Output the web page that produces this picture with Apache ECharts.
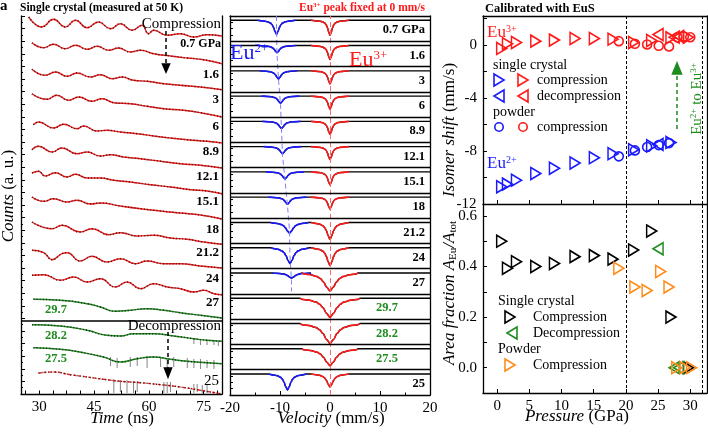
<!DOCTYPE html>
<html>
<head>
<meta charset="utf-8">
<script src="https://cdn.jsdelivr.net/npm/echarts@6/dist/echarts.min.js"></script>
<style>
  html, body { margin: 0; padding: 0; background: #fff; }
  #chart { width: 708px; height: 433px; }
</style>
</head>
<body>
<div id="chart"></div>
<script>
// ---- panel 1: time spectra, time (ns) vs counts (a.u., curves offset) ----
const timeLabels = [30, 45, 60, 75];
const timeTicks = [26.25, 30, 33.75, 37.5, 41.25, 45, 48.75, 52.5, 56.25, 60, 63.75, 67.5, 71.25, 75, 78.75];
const spectraT = [
  [27.1, 30.7, 33.9, 37.1, 39.9, 43.1, 46.2, 49.5, 52.2, 55.4, 58.1, 59.9, 61.3, 65.0, 68.6, 72.3, 75.9, 80],
  [28.0, 31.2, 33.9, 37.1, 39.9, 43.1, 45.8, 49.0, 51.7, 54.9, 57.7, 61.3, 65.9, 70.5, 75.0, 80],
  [28.0, 31.6, 34.4, 37.6, 40.3, 44.0, 46.7, 49.9, 52.7, 55.8, 59.5, 64.1, 68.6, 74.1, 80],
  [28.0, 32.1, 34.8, 38.0, 40.8, 44.4, 47.2, 50.4, 54.9, 59.5, 64.1, 69.5, 74.1, 80],
  [28.4, 29.8, 33.9, 36.7, 40.3, 42.1, 45.8, 48.5, 52.2, 56.8, 61.3, 65.9, 70.5, 75.9, 80],
  [28.0, 29.8, 33.5, 36.2, 40.3, 43.1, 46.7, 49.5, 53.1, 57.7, 63.2, 68.6, 74.1, 80],
  [28.0, 29.8, 31.6, 34.4, 37.6, 39.9, 43.1, 46.7, 50.4, 54.9, 60.4, 65.9, 71.4, 75.9, 80],
  [28.0, 31.2, 33.9, 37.6, 40.3, 44.0, 46.7, 52.2, 57.7, 63.2, 68.6, 74.1, 80],
  [28.0, 33.5, 36.2, 41.2, 44.4, 49.0, 52.2, 56.8, 61.3, 65.9, 70.5, 75.0, 80],
  [28.0, 31.2, 33.5, 36.2, 37.6, 41.2, 44.4, 48.5, 52.2, 56.3, 59.5, 64.1, 68.6, 74.1, 80],
  [28.0, 31.2, 35.8, 39.4, 43.1, 46.7, 50.8, 54.0, 57.7, 61.3, 65.0, 68.6, 72.3, 75.0, 77.8, 80],
  [28.4, 35.8, 43.1, 46.7, 50.8, 54.9, 59.5, 64.1, 68.6, 74.1, 80],
  [28.0, 35.8, 43.1, 48.5, 52.2, 55.8, 61.3, 66.8, 72.3, 75.9, 80],
  [28.4, 35.8, 42.1, 47.6, 52.2, 56.8, 61.3, 65.9, 70.5, 75.9, 80],
  [29.8, 33.9, 38.5, 43.1, 47.6, 52.2, 57.7, 63.2, 68.6, 74.1, 79.6]
];
const spectraC = [
  [377, 367, 374.7, 367, 373.7, 366.3, 372, 365.3, 370.3, 363.7, 368.7, 360.3, 363.7, 358.7, 360.3, 357, 359.3, 358],
  [351.3, 346.3, 349.7, 345.3, 348.7, 344.7, 347.7, 343.7, 346, 342, 343.7, 340.3, 338, 336, 334.3, 330.3],
  [324.7, 318.7, 322, 317.7, 321, 317, 319.3, 315.3, 317, 313.7, 312.7, 310.3, 308.7, 307, 304.3],
  [300.3, 294.7, 298.7, 293.7, 297, 292.7, 295.3, 291.3, 290.3, 287.7, 285.3, 283.7, 281.3, 277],
  [269.3, 272, 266, 269.7, 265.3, 268, 263, 263.7, 262, 260.3, 258, 256, 254.3, 252.7, 251],
  [244.3, 247.7, 242, 246, 240.3, 242, 238, 239.3, 237, 235.3, 232.7, 230.3, 228.7, 226],
  [221, 222.7, 218, 221.3, 217, 219.7, 216, 216, 213.7, 212, 209.3, 207, 204.3, 203, 200.3],
  [197, 192.7, 195.3, 192, 193.7, 190, 191, 188, 185.3, 183, 181, 179, 175],
  [172, 165.3, 168.7, 162, 165.3, 159.3, 161.3, 158, 158.7, 156, 154.7, 152, 149.7],
  [143.7, 141.3, 134.3, 140.3, 141.3, 133, 137.7, 132, 135.3, 130.3, 133, 130.3, 130.3, 128, 126],
  [118.7, 119.3, 113.7, 117, 112, 115.3, 107, 112, 105.3, 110.3, 107, 105.3, 102, 103.7, 100.3, 99.3],
  [94.7, 93.7, 90.3, 87, 82.7, 83.7, 85.3, 83.7, 81.3, 78.7, 76],
  [69.3, 68, 63.7, 58.7, 58, 60.3, 60.3, 58, 55.3, 53.7, 52.7],
  [46.3, 44.7, 41.3, 37, 32, 35.3, 37, 34.7, 32.7, 31.3, 30.3],
  [21, 22, 19.3, 17, 14.7, 12.7, 11.3, 9.3, 7, 3.7, 0.3]
];
const spectraFit = ['r', 'r', 'r', 'r', 'r', 'r', 'r', 'r', 'r', 'r', 'r', 'g', 'g', 'g', 'r'];
// error bars of the noisy decompression spectra
const errT = [72.3, 74.1, 75.9, 77.8, 79.0,
  49.5, 51.3, 54.9, 56.8, 59.5, 63.2, 65.0, 66.8, 70.5, 72.3, 74.1, 75.9, 77.8,
  50.4, 52.2, 54.0, 55.8, 56.8, 64.1, 65.0, 65.9, 72.3, 73.2, 74.6, 75.9];
const errHi = [55, 55, 54, 54, 53,
  37, 36, 37, 37, 38, 37, 36, 37, 36, 35, 35, 34, 34,
  15, 14, 14, 13, 13, 12, 12, 12, 10, 10, 9, 9];
const errLo = [50, 49, 49, 49, 48,
  28, 26, 27, 28, 26, 27, 26, 27, 26, 26, 25, 26, 25,
  1, 2, 1, 1, 2, 1, 1, 2, 1, 2, 1, 1];

// ---- panel 2: Mossbauer spectra, one band per pressure ----
const bandLabels = ['0.7 GPa', '1.6', '3', '6', '8.9', '12.1', '15.1', '18', '21.2', '24', '27', '29.7', '28.2', '27.5', '25'];
const bandGreen = [0, 0, 0, 0, 0, 0, 0, 0, 0, 0, 0, 1, 1, 1, 0];
const eu2Center = [-10.7, -10.6, -10.3, -9.9, -9.7, -9.5, -9.0, -8.5, -8.1, -8.0, -7.7, null, null, null, -8.5];
const eu2Depth = [0.55, 0.28, 0.32, 0.28, 0.28, 0.28, 0.28, 0.28, 0.43, 0.63, 0.2, 0, 0, 0, 0.63];
const eu2Width = [0.6, 0.6, 0.6, 0.6, 0.6, 0.6, 0.6, 0.6, 0.8, 0.8, 0.8, 0, 0, 0, 0.7];
const eu3Depth = [0.59, 0.55, 0.51, 0.51, 0.51, 0.51, 0.51, 0.47, 0.67, 0.71, 0.71, 0.75, 0.79, 0.67, 0.51];
const eu3Width = [0.5, 0.5, 0.5, 0.5, 0.5, 0.5, 0.5, 0.5, 0.7, 0.7, 1.3, 1.4, 1.4, 1.3, 0.7];
const dipOffsets = [-4, -3, -2, -1.5, -1, -0.5, 0, 0.5, 1, 1.5, 2, 3, 4];
const dipProfile = [0.06, 0.1, 0.2, 0.31, 0.5, 0.8, 1, 0.8, 0.5, 0.31, 0.2, 0.1, 0.06];

// ---- panel 3: isomer shift vs pressure ----
const pScComp = [0.7, 1.6, 3, 6, 8.9, 12.1, 15.1, 18, 21.2, 24, 27];
const isEu2ScComp = [-10.7, -10.5, -10.2, -9.7, -9.3, -8.9, -8.5, -8.2, -7.9, -7.6, -7.35];
const pScDecomp = [25];
const isEu2ScDecomp = [-7.5];
const pPowder = [18.9, 21.4, 23.3, 25.1, 26.7];
const isEu2Powder = [-8.4, -7.95, -7.7, -7.55, -7.4];
const pScComp3 = [0.7, 1.6, 3, 6, 8.9, 12.1, 15.1, 18, 21.2, 24, 27, 29.7];
const isEu3ScComp = [-0.25, 0.1, 0.2, 0.3, 0.38, 0.5, 0.5, 0.45, 0.2, 0.35, 0.55, 0.6];
const pScDecomp3 = [25, 27.5, 28.2];
const isEu3ScDecomp = [0.8, 0.6, 0.65];
const pPowder3 = [18.9, 21.4, 23.3, 25.1, 26.7, 28, 29, 30];
const isEu3Powder = [0.3, 0.1, 0.05, -0.05, -0.1, 0.6, 0.65, 0.6];

// ---- panel 4: Eu2+ area fraction vs pressure ----
const pFracScComp = [0.7, 1.6, 3, 6, 8.9, 12.1, 15.1, 18, 21.2, 24, 27, 29.7];
const fracScComp = [0.50, 0.393, 0.419, 0.40, 0.412, 0.439, 0.443, 0.429, 0.465, 0.54, 0.20, 0];
const pFracScDecomp = [25, 27.5, 28.2];
const fracScDecomp = [0.47, 0, 0];
const pFracPowder = [18.9, 21.4, 23.3, 25.4, 26.7, 27.9, 29.2, 30.2];
const fracPowder = [0.393, 0.319, 0.305, 0.38, 0.319, 0, 0, 0];
const pressureLabels = [0, 5, 10, 15, 20, 25, 30];
const isomerLabels = [-12, -8, -4, 0];
const isomerTicks = [-12, -10, -8, -6, -4, -2, 0, 2];
const boundaryP = [20, 31.9];

const serif = 'Liberation Serif';
const RED = '#ff1a1a', BLUE = '#1a1aff', GREEN = '#1e8c1e', ORANGE = '#ff8c1a';
const triR = 'path://M0,0L10,5L0,10Z';
const triL = 'path://M10,0L0,5L10,10Z';

const chart = echarts.init(document.getElementById('chart'));

const axLine = { show: true, onZero: false, lineStyle: { color: '#000', width: 1.3 } };
const tickIn = (len, values) => {
  const t = { show: true, inside: true, length: len, lineStyle: { color: '#000', width: 1 } };
  if (values) t.customValues = values;
  return t;
};
const lab = { fontFamily: serif, fontSize: 15, color: '#000', margin: 6 };
const noAx = (grid, pos) => ({
  gridIndex: grid, type: 'value', position: pos, min: 0, max: 1,
  axisLine: axLine, axisTick: { show: false }, axisLabel: { show: false }, splitLine: { show: false }
});

const series = [];

// panel 1 curves: fit line + dotted data
spectraT.forEach((ts, i) => {
  const pts = ts.map((t, j) => [t, spectraC[i][j]]);
  const fitColor = spectraFit[i] === 'g' ? GREEN : RED;
  series.push({
    type: 'line', xAxisIndex: 0, yAxisIndex: 0, data: pts, smooth: 0.5, showSymbol: false, silent: true, z: 2,
    lineStyle: { color: fitColor, width: 1.4, type: i === 14 ? [3, 2] : 'solid' }
  });
  series.push({
    type: 'line', xAxisIndex: 0, yAxisIndex: 0, data: pts, smooth: 0.5, showSymbol: false, silent: true, z: 3,
    lineStyle: { color: '#222', width: 1.4, type: [1, 2.2] }
  });
});
series.push({
  type: 'custom', xAxisIndex: 0, yAxisIndex: 0, silent: true, z: 1,
  data: errT.map((t, i) => [t, errHi[i], errLo[i]]),
  renderItem: (params, api) => {
    const a = api.coord([api.value(0), api.value(1)]);
    const b = api.coord([api.value(0), api.value(2)]);
    return { type: 'line', shape: { x1: a[0], y1: a[1], x2: b[0], y2: b[1] }, style: { stroke: '#777', lineWidth: 0.9 } };
  }
});
// divider between compression and decompression
series.push({
  type: 'line', xAxisIndex: 0, yAxisIndex: 0, data: [], silent: true,
  markLine: { symbol: 'none', silent: true, label: { show: false }, lineStyle: { color: '#000', width: 1.5, type: 'solid' }, data: [{ yAxis: 73 }] }
});

// panel 2 spectra
const guideBlue = [[eu2Center[0], 15]];
bandLabels.forEach((lbl, k) => {
  const b = 15 - k - 0.17;
  const blue = [], red = [];
  if (eu2Center[k] !== null) {
    const c = eu2Center[k];
    blue.push([c - 3.8, b]);
    dipOffsets.forEach((u, i) => blue.push([c + u * eu2Width[k], b - eu2Depth[k] * dipProfile[i]]));
    blue.push([c + 3.8, b]);
    if (k <= 10) guideBlue.push([c, 15 - k - 0.5]);
  }
  const edge = Math.max(3.8, 4 * eu3Width[k] + 0.4);
  red.push([-edge, b]);
  dipOffsets.forEach((u, i) => red.push([u * eu3Width[k], b - eu3Depth[k] * dipProfile[i]]));
  red.push([edge, b]);
  const black = [[-20, b]].concat(blue, red, [[20, b]]).sort((p, q) => p[0] - q[0]);
  const common = { type: 'line', xAxisIndex: 1, yAxisIndex: 2, smooth: 0.35, smoothMonotone: 'x', showSymbol: false, silent: true };
  series.push(Object.assign({}, common, { data: black, z: 2, lineStyle: { color: '#000', width: 1.4 } }));
  if (blue.length) series.push(Object.assign({}, common, { data: blue, z: 3, lineStyle: { color: BLUE, width: 1.6 } }));
  series.push(Object.assign({}, common, { data: red, z: 3, lineStyle: { color: RED, width: 1.6 } }));
});
guideBlue.push([eu2Center[10], 4.1]);
series.push({
  type: 'line', xAxisIndex: 1, yAxisIndex: 2, data: guideBlue, showSymbol: false, silent: true, z: 4,
  lineStyle: { color: '#7f7fff', width: 1, type: [5, 3] },
  markLine: {
    symbol: 'none', silent: true, label: { show: false },
    data: [{ xAxis: 0, lineStyle: { color: '#ff6a6a', width: 1, type: [5, 3] } }]
      .concat([1, 2, 3, 4, 5, 6, 7, 8, 9, 10, 11, 12, 13, 14].map(v => ({ yAxis: v, lineStyle: { color: '#000', width: 1.3, type: 'solid' } })))
  }
});

// panel 3 and 4 markers
function sc(xi, yi, xs, ys, sym, color, size) {
  return {
    type: 'scatter', xAxisIndex: xi, yAxisIndex: yi, data: xs.map((x, i) => [x, ys[i]]),
    symbol: sym, symbolSize: size, silent: true, z: 4,
    itemStyle: { color: 'rgba(0,0,0,0)', borderColor: color, borderWidth: 1.6, opacity: 1 }
  };
}
const dashV = {
  symbol: 'none', silent: true, label: { show: false },
  lineStyle: { color: '#000', width: 1, type: [3, 2] },
  data: boundaryP.map(p => ({ xAxis: p }))
};
// lowest isomer-shift label sits on the panel boundary, drawn as a mark at the axis corner
const isoMinMark = {
  silent: true, symbol: 'circle', symbolSize: 1, itemStyle: { color: 'rgba(0,0,0,0)' },
  label: { show: true, position: 'left', distance: 6, color: '#000', fontFamily: serif, fontSize: 15, formatter: String(isomerLabels[0]) },
  data: [{ coord: [-2.2, isomerLabels[0]] }]
};
series.push(Object.assign(sc(3, 4, pScComp, isEu2ScComp, triR, BLUE, [10, 12]), { markLine: dashV, markPoint: isoMinMark }));
series.push(sc(3, 4, pScDecomp, isEu2ScDecomp, triL, BLUE, [10, 12]));
series.push(sc(3, 4, pPowder, isEu2Powder, 'circle', BLUE, 9));
series.push(sc(3, 4, pScComp3, isEu3ScComp, triR, RED, [10, 12]));
series.push(sc(3, 4, pScDecomp3, isEu3ScDecomp, triL, RED, [10, 12]));
series.push(sc(3, 4, pPowder3, isEu3Powder, 'circle', RED, 9));
series.push(Object.assign(sc(5, 6, pFracScComp, fracScComp, triR, '#000', [10, 12]), { markLine: dashV }));
series.push(sc(5, 6, pFracScDecomp, fracScDecomp, triL, GREEN, [10, 12]));
series.push(sc(5, 6, pFracPowder, fracPowder, triR, ORANGE, [10, 12]));

// text and annotation helpers
function gtext(x, y, text, o) {
  o = o || {};
  return {
    type: 'text', x: x, y: y, rotation: o.rot || 0, silent: true, z: 10,
    style: {
      text: text, fill: o.color || '#000', fontFamily: serif, fontSize: o.size || 13,
      fontWeight: o.bold ? 'bold' : 'normal', fontStyle: o.italic ? 'italic' : 'normal',
      align: o.align || 'left', textAlign: o.align || 'left',
      verticalAlign: 'middle', textVerticalAlign: 'middle', rich: o.rich
    }
  };
}
const supRich = (size, color, bold) => ({
  m: { fontFamily: serif, fontSize: size, fill: color, color: color, fontWeight: bold ? 'bold' : 'normal' },
  s: { fontFamily: serif, fontSize: Math.round(size * 0.6), fill: color, color: color, verticalAlign: 'top', fontWeight: bold ? 'bold' : 'normal' }
});
const axisRich = size => ({
  i: { fontFamily: serif, fontSize: size, fontStyle: 'italic', fill: '#000' },
  n: { fontFamily: serif, fontSize: size, fill: '#000' },
  b: { fontFamily: serif, fontSize: Math.round(size * 0.62), fill: '#000', verticalAlign: 'bottom' }
});
function dline(x1, y1, x2, y2, color) {
  return { type: 'line', silent: true, z: 10, shape: { x1: x1, y1: y1, x2: x2, y2: y2 }, style: { stroke: color, lineWidth: 1.5, lineDash: [4, 3] } };
}
function poly(points, color, fill) {
  return { type: 'polygon', silent: true, z: 10, shape: { points: points }, style: { stroke: color, fill: fill ? color : 'none', lineWidth: 1.6 } };
}
function ring(cx, cy, color) {
  return { type: 'circle', silent: true, z: 10, shape: { cx: cx, cy: cy, r: 4.2 }, style: { stroke: color, fill: 'none', lineWidth: 1.6 } };
}
const rTri = (x, y, c) => poly([[x - 5, y - 6], [x + 5, y], [x - 5, y + 6]], c);
const lTri = (x, y, c) => poly([[x + 5, y - 6], [x - 5, y], [x + 5, y + 6]], c);

const graphic = [
  gtext(0, 6, 'a', { size: 15, bold: true }),
  gtext(20, 8, 'Single crystal (measured at 50 K)', { size: 11.5, bold: true }),
  gtext(362, 8, '{m|Eu}{s|3+}{m| peak fixed at 0 mm/s}', { align: 'center', rich: supRich(11.5, RED, true) }),
  gtext(485, 9, 'Calibrated with EuS', { size: 12.5, bold: true }),
  // panel 1 labels
  gtext(221, 24, 'Compression', { size: 15, align: 'right' }),
  gtext(221, 44, '0.7 GPa', { size: 12, bold: true, align: 'right' }),
  dline(166, 31, 166, 65, '#000'),
  poly([[162.5, 64], [169.5, 64], [166, 72]], '#000', true),
  gtext(221, 326, 'Decompression', { size: 15, align: 'right' }),
  dline(168, 332, 168, 369, '#000'),
  poly([[164.5, 368], [171.5, 368], [168, 377]], '#000', true),
  gtext(219, 381, '25', { size: 15, align: 'right' }),
  gtext(45, 310, '29.7', { size: 12.5, bold: true, color: GREEN }),
  gtext(45, 336, '28.2', { size: 12.5, bold: true, color: GREEN }),
  gtext(45, 359, '27.5', { size: 12.5, bold: true, color: GREEN }),
  // panel 2 big labels
  gtext(230, 53, '{m|Eu}{s|2+}', { rich: supRich(22, BLUE) }),
  gtext(349, 60, '{m|Eu}{s|3+}', { rich: supRich(22, RED) }),
  // panel 3 legend
  gtext(487, 33, '{m|Eu}{s|3+}', { rich: supRich(17, RED) }),
  gtext(487, 164, '{m|Eu}{s|2+}', { rich: supRich(17, BLUE) }),
  gtext(493, 65, 'single crystal', { size: 14 }),
  rTri(499, 80, BLUE), rTri(523, 80, RED),
  gtext(537, 80, 'compression', { size: 14 }),
  lTri(499, 96, BLUE), lTri(523, 96, RED),
  gtext(537, 96, 'decompression', { size: 14 }),
  gtext(493, 112, 'powder', { size: 14 }),
  ring(499, 127, BLUE), ring(523, 127, RED),
  gtext(537, 127, 'compression', { size: 14 }),
  dline(677, 129, 677, 72, GREEN),
  poly([[672.5, 74], [681.5, 74], [677, 63]], GREEN, true),
  gtext(697, 99, '{m|Eu}{s|2+}{m| to Eu}{s|3+}', { rot: Math.PI / 2, align: 'center', rich: supRich(15, GREEN) }),
  // panel 4 legend
  gtext(498, 301, 'Single crystal', { size: 14 }),
  rTri(510, 317, '#000'),
  gtext(533, 317, 'Compression', { size: 14 }),
  lTri(512, 333, GREEN),
  gtext(533, 333, 'Decompression', { size: 14 }),
  gtext(498, 349, 'Powder', { size: 14 }),
  rTri(510, 365, ORANGE),
  gtext(533, 365, 'Compression', { size: 14 }),
  // axis titles
  gtext(122, 419, '{i|Time}{n| (ns)}', { align: 'center', rich: axisRich(17) }),
  gtext(331, 419, '{i|Velocity}{n| (mm/s)}', { align: 'center', rich: axisRich(17) }),
  gtext(577, 417, '{i|Pressure}{n| (GPa)}', { align: 'center', rich: axisRich(17) }),
  gtext(9, 196, '{i|Counts}{n| (a. u.)}', { rot: Math.PI / 2, align: 'center', rich: axisRich(17) }),
  gtext(450, 130, '{i|Isomer shift}{n| (mm/s)}', { rot: Math.PI / 2, align: 'center', rich: axisRich(17) }),
  gtext(450, 293, '{i|Area fraction A}{b|Eu}{i|/A}{b|tot}', { rot: Math.PI / 2, align: 'center', rich: axisRich(17) })
];
// panel 2 pressure labels, one per band
bandLabels.forEach((lbl, k) => {
  const y = 16 + (k + 0.5) * 379 / 15 + 1.5;
  if (bandGreen[k]) graphic.push(gtext(387, y, lbl, { size: 12.5, bold: true, color: GREEN, align: 'center' }));
  else graphic.push(gtext(425, y, lbl, { size: 12.5, bold: true, align: 'right' }));
});
// panel 1 pressure labels (compression)
const leftLabelY = [75, 100, 127, 152, 177, 202, 230, 253, 279, 303];
bandLabels.slice(1, 11).forEach((lbl, i) => graphic.push(gtext(219, leftLabelY[i], lbl, { size: 13, bold: true, align: 'right' })));

// label every other tenth (0.0, 0.2, 0.4, 0.6) on the fraction axis
const fracFormatter = v => {
  const r = Math.round(v * 10);
  return (Math.abs(v * 10 - r) < 1e-6 && r >= 0 && r % 2 === 0) ? (r / 10).toFixed(1) : '';
};

chart.setOption({
  animation: false,
  backgroundColor: '#fff',
  grid: [
    { left: 21, top: 16, width: 201, height: 378 },
    { left: 230, top: 16, width: 200, height: 379 },
    { left: 483, top: 16, width: 224, height: 188 },
    { left: 483, top: 204, width: 224, height: 189 }
  ].map(g => Object.assign({ containLabel: false, outerBoundsMode: 'none' }, g)),
  xAxis: [
    { gridIndex: 0, type: 'value', min: 25, max: 80, axisLine: axLine, splitLine: { show: false },
      axisTick: tickIn(3.5, timeTicks), axisLabel: Object.assign({ customValues: timeLabels }, lab) },
    { gridIndex: 1, type: 'value', min: -20, max: 20, interval: 10, axisLine: axLine, splitLine: { show: false },
      axisTick: tickIn(4), minorTick: { show: true, splitNumber: 2, length: 2.5, lineStyle: { color: '#000' } },
      axisLabel: lab },
    noAx(1, 'top'),
    { gridIndex: 2, type: 'value', min: -2.2, max: 32.6, axisLine: axLine, splitLine: { show: false },
      axisTick: tickIn(4, pressureLabels), axisLabel: { show: false } },
    noAx(2, 'top'),
    { gridIndex: 3, type: 'value', min: -2.2, max: 32.6, axisLine: axLine, splitLine: { show: false },
      axisTick: tickIn(4, pressureLabels), axisLabel: Object.assign({ customValues: pressureLabels }, lab) }
  ],
  yAxis: [
    { gridIndex: 0, type: 'value', min: 0, max: 378, interval: 12.6, axisLine: axLine, splitLine: { show: false },
      axisTick: tickIn(4), minorTick: { show: true, splitNumber: 2, length: 2, lineStyle: { color: '#000' } }, axisLabel: { show: false } },
    noAx(0, 'right'),
    { gridIndex: 1, type: 'value', min: 0, max: 15, interval: 0.25, axisLine: axLine, splitLine: { show: false },
      axisTick: tickIn(3), axisLabel: { show: false } },
    noAx(1, 'right'),
    { gridIndex: 2, type: 'value', min: -12, max: 2.2, axisLine: axLine, splitLine: { show: false },
      axisTick: tickIn(4, isomerTicks),
      axisLabel: Object.assign({ customValues: isomerLabels.slice(1) }, lab) },
    noAx(2, 'right'),
    { gridIndex: 3, type: 'value', min: -0.1, max: 0.647, interval: 0.1, axisLine: axLine, splitLine: { show: false },
      axisTick: tickIn(4),
      axisLabel: Object.assign({ formatter: fracFormatter, showMinLabel: true, showMaxLabel: false }, lab) },
    noAx(3, 'right')
  ],
  series: series,
  graphic: graphic
});
</script>
</body>
</html>
